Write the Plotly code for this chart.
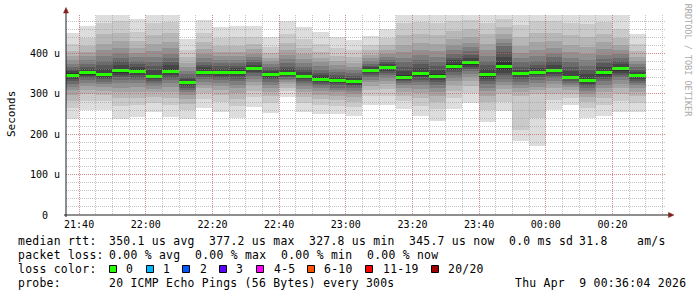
import plotly.graph_objects as go
import pandas as pd

# ---------------- data ----------------
# 35 five-minute bins, 20 sorted ping RTTs per bin, in microseconds
bin_centers = pd.date_range("2026-04-08 21:37:30", periods=35, freq="5min")

pings = [
    [237,265,283,298,309,317,325,332,337,342,352,356,361,368,375,383,393,407,424,450],
    [260,283,299,311,320,327,334,339,344,348,356,362,368,375,383,393,404,419,439,468],
    [260,282,297,308,317,324,330,336,340,344,352,363,372,382,394,408,425,448,477,520],
    [239,269,289,304,316,326,334,341,347,353,363,373,381,390,402,415,431,452,480,520],
    [244,272,291,306,317,326,334,340,346,351,361,368,374,382,391,402,415,431,454,486],
    [256,278,293,304,313,320,326,332,336,340,348,360,369,379,392,406,423,446,476,520],
    [244,272,291,306,317,326,334,340,346,351,361,371,379,389,400,413,430,451,479,520],
    [239,261,276,288,297,304,310,316,320,324,331.6,338,343,350,357,366,377,391,409,436],
    [264,287,302,314,323,330,336,341,346,350,357,366,372,380,389,399,412,429,451,483],
    [256,280,297,309,319,327,334,339,344,349,357,363,369,376,384,393,404,419,439,467],
    [240,269,288,303,314,323,331,338,344,349,359,364,370,377,385,394,405,420,440,468],
    [268,292,308,321,330,338,345,351,355,360,368,373,379,385,392,400,411,424,442,468],
    [254,278,294,306,316,323,330,336,340,345,353,357,362,367,374,381,390,402,417,440],
    [292,307,316,324,330,334,338,342,345,347,353,362,368,376,386,396,409,427,449,482],
    [256,278,293,304,313,320,326,332,336,340,348,355,361,368,377,386,399,414,435,465],
    [250,272,287,298,307,314,320,325,329,333,341,348,353,360,369,378,390,405,425,454],
    [250,271,285,296,304,311,316,321,326,329,337,343,348,354,362,371,381,395,413,440],
    [245,267,281,292,301,308,314,319,323,327,335,340,345,352,359,367,377,391,408,434],
    [273,294,309,320,329,335,341,346,351,355,362,366,370,375,381,388,397,408,422,443],
    [273,296,312,324,333,340,347,352,357,361,369,374,379,384,391,399,409,421,438,462],
    [263,283,296,306,314,321,326,331,335,338,346,358,367,378,390,404,422,445,476,520],
    [245,271,289,303,313,322,329,335,341,345,355,365,374,384,396,410,427,449,478,520],
    [234,262,280,295,306,315,322,329,335,340,349,360,369,380,392,406,424,446,476,520],
    [262,289,307,321,332,340,348,354,359,364,374,383,390,399,410,422,437,457,482,520],
    [278,303,320,332,342,350,357,363,368,372.7,381.7,390,397,406,416,427,441,460,484,520],
    [231,260,280,295,307,316,324,331,337,342,353,363,372,382,394,408,425,448,477,520],
    [258,280,300,312,322,330,338,347,352,360,378,392,405,418,426,436,448,465,485,520],
    [184,211,295,305,315,322,330,337,343,347,353,360,368,378,390,402,418,440,470,520],
    [172,240,300,310,318,326,334,341,346,350,358,364,372,382,395,410,428,450,482,520],
    [260,285,301,314,324,332,339,345,350,354,363,373,381,391,402,415,431,452,480,520],
    [272,290,301,311,318,323,328,332,336,339,345,358,367,378,390,404,422,445,476,520],
    [241,264,280,292,301,308,315,320,325,329,337,350,359,370,384,398,417,442,473,520],
    [245,272,290,304,315,323,331,337,342,347,357,367,376,386,397,411,428,449,478,520],
    [256,283,301,315,325,334,341,348,353,357.8,367.4,375,381,389,398,409,422,439,462,495],
    [256,278,294,305,314,322,328,333,338,341.7,349.7,355,360,366,374,382,392,406,423,449],
]

median_rtt = [347,352,348,358,356,344,356,327.8,353.6,353,354,364.3,349,350,344,337,333,331,
              358.5,365,342,350,344.5,369,377.2,347.5,369,350,354.4,358.5,342,333,352,362.6,345.7]

x_range = ["2026-04-08 21:36:04", "2026-04-09 00:36:04"]
y_max = 495.7
x_tick_vals = pd.date_range("2026-04-08 21:40", periods=9, freq="20min")
x_tick_text = ["21:40", "22:00", "22:20", "22:40", "23:00", "23:20", "23:40", "00:00", "00:20"]
x_minor_vals = pd.date_range("2026-04-08 21:40", periods=36, freq="5min")
y_tick_vals = [0, 100, 200, 300, 400]
y_tick_text = ["0\u00a0\u00a0", "100 u", "200 u", "300 u", "400 u"]
y_minor_vals = list(range(0, 500, 20))

loss_labels = ["0", "1", "2", "3", "4-5", "6-10", "11-19", "20/20"]
loss_colors = ["#26ff00", "#00b8ff", "#0059ff", "#5e00ff", "#ff00ff", "#ff5500", "#ff0000", "#a10000"]

legend_lines = [
    [(16, "median rtt:"), (107.3, "350.1 us avg"), (207.3, "377.2 us max"), (307.3, "327.8 us min"),
     (407.3, "345.7 us now"), (507.3, "0.0 ms sd"), (576.7, "31.8"), (635, "am/s")],
    [(16, "packet loss:"), (107.3, "0.00 % avg"), (193.3, "0.00 % max"), (279.3, "0.00 % min"),
     (365, "0.00 % now")],
    [(16, "loss color:")],
    [(16, "probe:"), (107.3, "20 ICMP Echo Pings (56 Bytes) every 300s"),
     (513.3, "Thu Apr\u00a0\u00a09 00:36:04 2026")],
]
legend_y = [241, 255, 269, 283]
loss_box_x = [109, 146, 182.7, 219.3, 256.7, 307.3, 365.7, 431]

# ---------------- geometry helpers (pixel -> paper) ----------------
W, H = 697, 297
ML, MR, MT, MB = 66, 31, 15, 82
PW, PH = W - ML - MR, H - MT - MB


def px(x):
    return (x - ML) / PW


def py(y):
    return (MT + PH - y) / PH


MONO = "DejaVu Sans Mono"

fig = go.Figure()

# smoke: pair layers, outermost light, innermost dark
n = 20
half = n // 2
for ii in range(1, half + 1):
    c = int(190 / half * (half - ii)) + 50
    lo = [row[ii - 1] for row in pings]
    hi = [row[n - ii] for row in pings]
    fig.add_trace(go.Bar(
        x=bin_centers, base=lo, y=[h - l for h, l in zip(hi, lo)],
        width=300000, marker=dict(color=f"rgb({c},{c},{c})", line=dict(width=0)),
        hoverinfo="skip", showlegend=False, xaxis="x", yaxis="y"))

# median: 3 px high band, loss colour green
swidth = y_max / PH
fig.add_trace(go.Bar(
    x=bin_centers, base=[m - 1.5 * swidth for m in median_rtt], y=[3 * swidth] * len(median_rtt),
    width=300000, marker=dict(color=loss_colors[0], line=dict(width=0)),
    hoverinfo="skip", showlegend=False, xaxis="x", yaxis="y"))

# empty trace on a second subplot (same domain) so the grid is drawn above the smoke
fig.add_trace(go.Scatter(x=[], y=[], xaxis="x2", yaxis="y2", showlegend=False, hoverinfo="skip"))

grid_minor = "rgba(150,150,150,0.55)"
grid_major = "rgba(222,79,79,0.5)"

fig.update_layout(
    width=W, height=H,
    margin=dict(l=ML, r=MR, t=MT, b=MB, pad=0),
    paper_bgcolor="white", plot_bgcolor="rgba(0,0,0,0)",
    barmode="overlay", bargap=0, showlegend=False,
    font=dict(family=MONO, size=10, color="black"),
    xaxis=dict(type="date", range=x_range, showgrid=False, zeroline=False, showline=False,
               tickmode="array", tickvals=x_tick_vals, ticktext=x_tick_text, ticks="",
               tickfont=dict(family=MONO, size=10, color="black"), ticklabelstandoff=2),
    yaxis=dict(range=[0, y_max], showgrid=False, zeroline=False, showline=False,
               tickmode="array", tickvals=y_tick_vals, ticktext=y_tick_text, ticks="",
               tickfont=dict(family=MONO, size=10, color="black"), ticklabelstandoff=5),
    xaxis2=dict(type="date", range=x_range, anchor="y2", showticklabels=False, ticks="",
                zeroline=False, showline=False, showgrid=True,
                tickmode="array", tickvals=x_tick_vals,
                gridcolor=grid_major, gridwidth=1, griddash="1px,1px",
                minor=dict(tickmode="array", tickvals=x_minor_vals, showgrid=True,
                           gridcolor=grid_minor, gridwidth=1, griddash="1px,1px")),
    yaxis2=dict(range=[0, y_max], anchor="x2", showticklabels=False, ticks="",
                zeroline=False, showline=False, showgrid=True,
                tickmode="array", tickvals=y_tick_vals,
                gridcolor=grid_major, gridwidth=1, griddash="1px,1px",
                minor=dict(tickmode="array", tickvals=y_minor_vals, showgrid=True,
                           gridcolor=grid_minor, gridwidth=1, griddash="1px,1px")),
)

shapes = []
axis_col = "#1f1f1f"
arrow_col = "#801f1f"
# axes
shapes.append(dict(type="line", xref="paper", yref="paper", x0=px(66), x1=px(66), y0=py(217), y1=py(12),
                   line=dict(color=axis_col, width=1), layer="above"))
shapes.append(dict(type="line", xref="paper", yref="paper", x0=px(64), x1=px(670), y0=py(215), y1=py(215),
                   line=dict(color=axis_col, width=1), layer="above"))
# arrows
shapes.append(dict(type="path", xref="paper", yref="paper",
                   path=f"M {px(63.5)} {py(13)} L {px(68.5)} {py(13)} L {px(66)} {py(7.5)} Z",
                   fillcolor=arrow_col, line=dict(color=arrow_col, width=0.5), layer="above"))
shapes.append(dict(type="path", xref="paper", yref="paper",
                   path=f"M {px(668.5)} {py(212.5)} L {px(668.5)} {py(217.5)} L {px(674)} {py(215)} Z",
                   fillcolor=arrow_col, line=dict(color=arrow_col, width=0.5), layer="above"))
# loss colour boxes
for bx, col in zip(loss_box_x, loss_colors):
    x0 = int(bx) + 0.5
    shapes.append(dict(type="rect", xref="paper", yref="paper",
                       x0=px(x0), x1=px(x0 + 7), y0=py(265.5), y1=py(272.5),
                       fillcolor=col, line=dict(color="black", width=1), layer="above"))
fig.update_layout(shapes=shapes)

ann = []


def txt(x, y, s, size=11.4, spacing=0.28, color="black", angle=0, xanchor="left"):
    if spacing:
        s = f'<span style="letter-spacing:{spacing}px">{s}</span>'
    ann.append(dict(x=px(x), y=py(y), xref="paper", yref="paper", text=s, showarrow=False,
                    xanchor=xanchor, yanchor="middle", textangle=angle,
                    font=dict(family=MONO, size=size, color=color)))


for line, yy in zip(legend_lines, legend_y):
    for xx, s in line:
        txt(xx, yy, s)
for bx, lab in zip(loss_box_x, loss_labels):
    txt(bx + 15, legend_y[2], lab)

txt(11, 114, "Seconds", size=11, spacing=0, angle=-90, xanchor="center")
txt(688.3, 60, "RRDTOOL / TOBI OETIKER", size=8.5, spacing=0, color="#aaaaaa", angle=90, xanchor="center")

fig.update_layout(annotations=ann)

fig.write_html("out.html")
